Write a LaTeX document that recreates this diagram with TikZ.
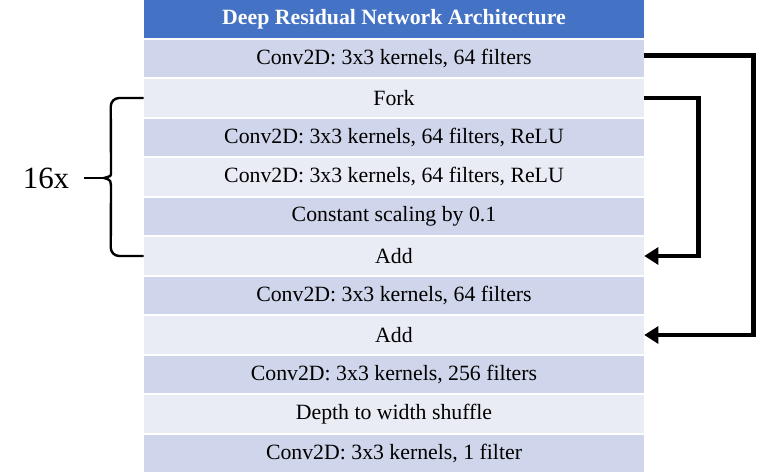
\documentclass[tikz,border=0pt]{standalone}
\usepackage{fontspec}
\setmainfont{Liberation Serif}
\usepackage{tikz}
\usetikzlibrary{arrows.meta, positioning, calc}
\definecolor{nethead}{HTML}{4472C4}
\definecolor{netdark}{HTML}{CFD5EA}
\definecolor{netlight}{HTML}{E9EBF5}

\begin{document}
\begin{tikzpicture}[
    layer/.style={rectangle, fill=#1, minimum width=12.5cm, minimum height=0.94cm, inner sep=0pt, font=\fontsize{15.5}{18}\selectfont},
    head/.style={layer=nethead, text=white, font=\fontsize{15.5}{18}\selectfont\bfseries},
    skip/.style={line width=3.2pt, -{Triangle[length=10pt, width=12pt]}},
    repeat/.style={line width=1.7pt}
]
\useasboundingbox (0,0) rectangle (19.1,-11.9);

% Table of layers
\node[head] (r0) at (9.85,-0.475) {Deep Residual Network Architecture};
\node[layer=netdark] (r1) at (9.85,-1.4625) {Conv2D: 3x3 kernels, 64 filters};
\node[layer=netlight] (r2) at (9.85,-2.45) {Fork};
\node[layer=netdark] (r3) at (9.85,-3.4375) {Conv2D: 3x3 kernels, 64 filters, ReLU};
\node[layer=netlight] (r4) at (9.85,-4.425) {Conv2D: 3x3 kernels, 64 filters, ReLU};
\node[layer=netdark] (r5) at (9.85,-5.4125) {Constant scaling by 0.1};
\node[layer=netlight] (r6) at (9.85,-6.4) {Add};
\node[layer=netdark] (r7) at (9.85,-7.3875) {Conv2D: 3x3 kernels, 64 filters};
\node[layer=netlight] (r8) at (9.85,-8.375) {Add};
\node[layer=netdark] (r9) at (9.85,-9.3625) {Conv2D: 3x3 kernels, 256 filters};
\node[layer=netlight] (r10) at (9.85,-10.35) {Depth to width shuffle};
\node[layer=netdark] (r11) at (9.85,-11.3375) {Conv2D: 3x3 kernels, 1 filter};

% Skip connections
\draw[skip] ([yshift=2pt]r1.east) -- ++(2.725,0) |- (r8.east);
\draw[skip] (r2.east) -- ++(1.35,0) |- (r6.east);

% Repeat brace
\node[font=\fontsize{22}{26}\selectfont] (times) at (1.15,-4.45) {16x};
\coordinate (tip) at (2.6,-4.45);
\draw[repeat, rounded corners=6pt] (r2.west) -- ($(r2.west)+(-0.825,0)$) -- ($(tip)+(0.175,0.3)$)
    [sharp corners] .. controls ($(tip)+(0.175,0.05)$) .. (tip)
    .. controls ($(tip)+(0.175,-0.05)$) .. ($(tip)+(0.175,-0.3)$)
    [rounded corners=6pt] -- ($(r6.west)+(-0.825,0)$) -- (r6.west);
\draw[repeat] ([xshift=0.25cm]times.east) -- (tip);

\end{tikzpicture}
\end{document}
